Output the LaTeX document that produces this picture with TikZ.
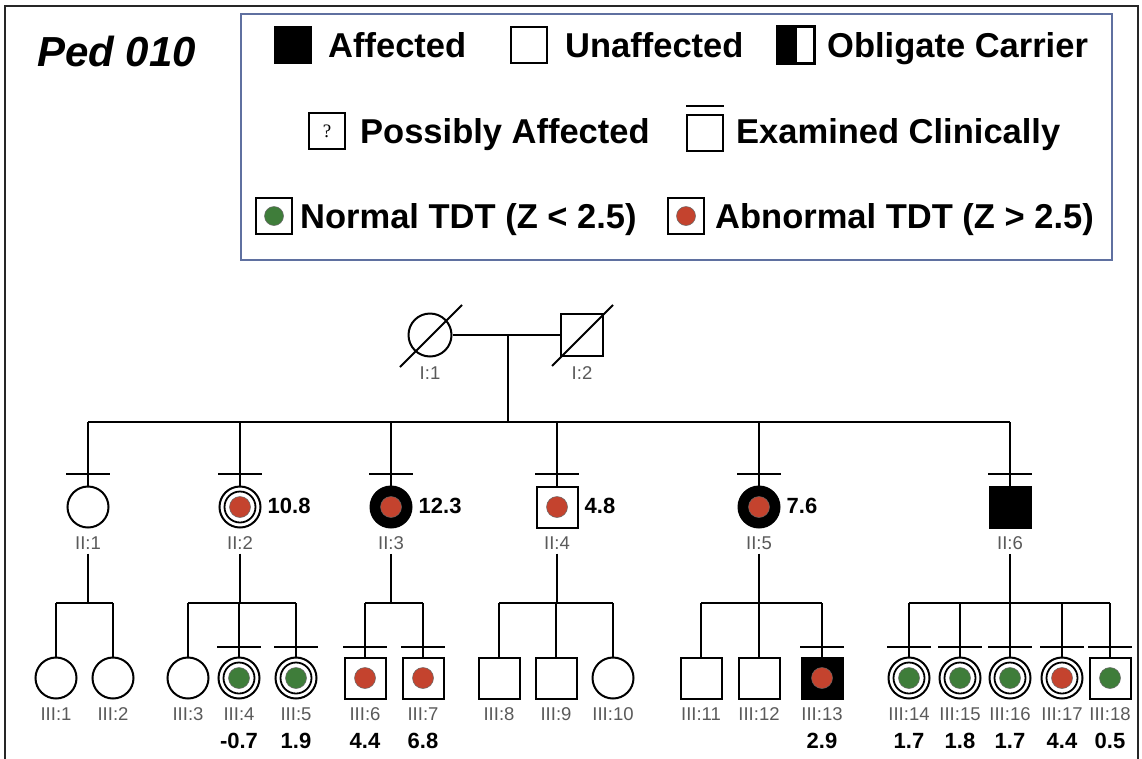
\documentclass[tikz,border=0pt]{standalone}
\usepackage{fontspec}
\setmainfont{Liberation Sans}
\newfontfamily\qfont{Liberation Serif}
\definecolor{tdtred}{HTML}{C4432E}
\definecolor{tdtgreen}{HTML}{3F7D3A}
\definecolor{legblue}{HTML}{5F70A0}
\definecolor{labgray}{HTML}{5A5A5A}
\begin{document}
\begin{tikzpicture}[x=1pt,y=-1pt,
  ln/.style={line width=2pt},
  fem/.style={circle, draw, line width=2pt, minimum size=41pt, inner sep=0pt, fill=white},
  mal/.style={rectangle, draw, line width=2pt, minimum size=41pt, inner sep=0pt, fill=white},
  affd/.style={fill=black},
  ring/.style={circle, draw, line width=1.8pt, minimum size=31pt, inner sep=0pt},
  rdot/.style={circle, fill=tdtred, draw=black!60, line width=0.5pt, minimum size=21pt, inner sep=0pt},
  gdot/.style={circle, fill=tdtgreen, draw=black!60, line width=0.5pt, minimum size=21pt, inner sep=0pt},
  lab/.style={font=\fontsize{18.5}{20}\selectfont, text=labgray, inner sep=0pt},
  num/.style={font=\bfseries\fontsize{22}{24}\selectfont, inner sep=0pt},
  legtxt/.style={font=\bfseries\fontsize{34.5}{40}\selectfont, anchor=base west, inner sep=0pt},
  legsq/.style={rectangle, draw, line width=1.6pt, minimum width=36pt, minimum height=36pt, inner sep=0pt, fill=white},
]
\useasboundingbox (0,0) rectangle (1142,758);
\fill[white] (0,0) rectangle (1142,758);
\draw[line width=1.5pt, black!85] (5,765) -- (5,6) -- (1138,6) -- (1138,765);

% title
\node[font=\bfseries\itshape\fontsize{42}{46}\selectfont, anchor=base west, inner sep=0pt] (title) at (37,66) {Ped 010};

% legend
\draw[legblue, line width=2pt] (241,14) rectangle (1112,260);
\node[legsq, fill=black] (kAff) at (293,45) {};
\node[legtxt] (tAff) at (328,57.5) {Affected};
\node[legsq] (kUnaff) at (529,45) {};
\node[legtxt] (tUnaff) at (565,57.5) {Unaffected};
\node[legsq] (kObl) at (796,45) {};
\fill[black] (kObl.north west) rectangle ([xshift=1pt]kObl.south);
\draw[line width=1.6pt] (kObl.north west) rectangle (kObl.south east);
\node[legtxt] (tObl) at (827,57.5) {Obligate Carrier};

\node[legsq, font=\qfont\fontsize{19}{21}\selectfont] (kPoss) at (327,131) {?};
\node[legtxt] (tPoss) at (360,143) {Possibly Affected};
\node[legsq] (kExam) at (705,133) {};
\draw[line width=2pt] ([yshift=8pt]kExam.north west) -- ([yshift=8pt]kExam.north east);
\node[legtxt] (tExam) at (736,143) {Examined Clinically};

\node[legsq] (kNorm) at (274,216) {};
\node[gdot, minimum size=19pt] (kNormDot) at (kNorm) {};
\node[legtxt] (tNorm) at (300,228) {Normal TDT (Z < 2.5)};
\node[legsq] (kAbn) at (686,216) {};
\node[rdot, minimum size=19pt] (kAbnDot) at (kAbn) {};
\node[legtxt] (tAbn) at (715,228) {Abnormal TDT (Z > 2.5)};

% generation I
\node[fem, minimum size=43pt] (I1) at (430,335) {};
\node[mal, minimum size=42pt] (I2) at (582,335) {};
\draw[ln] (I1.east) -- (I2.west);
\draw[ln] ([xshift=-30pt,yshift=-32pt]I1.center) -- ([xshift=32pt,yshift=30pt]I1.center);
\draw[ln] ([xshift=-30pt,yshift=-31pt]I2.center) -- ([xshift=31pt,yshift=30pt]I2.center);
\node[lab] (lI1) at (430,373) {I:1};
\node[lab] (lI2) at (582,373) {I:2};
\coordinate (m1) at (508,335);
\coordinate (sII) at (508,422);
\draw[ln] (m1) -- (sII);

% generation II
\node[fem] (II1) at (88,507) {};
\node[fem] (II2) at (240,507) {};
\node[ring] (cII2) at (II2) {};
\node[rdot] (dII2) at (II2) {};
\node[fem, affd] (II3) at (391,507) {};
\node[rdot] (dII3) at (II3) {};
\node[mal] (II4) at (557,507) {};
\node[rdot] (dII4) at (II4) {};
\node[fem, affd] (II5) at (759,507) {};
\node[rdot] (dII5) at (II5) {};
\node[mal, affd] (II6) at (1010,507) {};

\draw[ln] (II1.north |- sII) -- (II6.north |- sII);
\foreach \n in {II1,II2,II3,II4,II5,II6}{
  \draw[ln] (\n.north |- sII) -- (\n.north);
  \draw[ln] ([xshift=-22pt,yshift=12pt]\n.north) -- ([xshift=22pt,yshift=12pt]\n.north);
}
\node[lab] (lII1) at (88,543) {II:1};
\node[lab] (lII2) at (240,543) {II:2};
\node[lab] (lII3) at (391,543) {II:3};
\node[lab] (lII4) at (557,543) {II:4};
\node[lab] (lII5) at (759,543) {II:5};
\node[lab] (lII6) at (1010,543) {II:6};
\node[num, anchor=west] (nII2) at ([xshift=6pt,yshift=1pt]II2.east) {10.8};
\node[num, anchor=west] (nII3) at ([xshift=6pt,yshift=1pt]II3.east) {12.3};
\node[num, anchor=west] (nII4) at ([xshift=6pt,yshift=1pt]II4.east) {4.8};
\node[num, anchor=west] (nII5) at ([xshift=6pt,yshift=1pt]II5.east) {7.6};

% generation III
\coordinate (g3) at (0,603);
\node[fem] (III1) at (56,678) {};
\node[fem] (III2) at (113,678) {};
\node[fem] (III3) at (188,678) {};
\node[fem] (III4) at (239,678) {};
\node[ring] (cIII4) at (III4) {};
\node[gdot] (dIII4) at (III4) {};
\node[fem] (III5) at (296,678) {};
\node[ring] (cIII5) at (III5) {};
\node[gdot] (dIII5) at (III5) {};
\node[mal] (III6) at (365,678) {};
\node[rdot] (dIII6) at (III6) {};
\node[mal] (III7) at (423,678) {};
\node[rdot] (dIII7) at (III7) {};
\node[mal] (III8) at (499,678) {};
\node[mal] (III9) at (556,678) {};
\node[fem] (III10) at (613,678) {};
\node[mal] (III11) at (701,678) {};
\node[mal] (III12) at (759,678) {};
\node[mal, affd] (III13) at (822,678) {};
\node[rdot] (dIII13) at (III13) {};
\node[fem] (III14) at (909,678) {};
\node[ring] (cIII14) at (III14) {};
\node[gdot] (dIII14) at (III14) {};
\node[fem] (III15) at (960,678) {};
\node[ring] (cIII15) at (III15) {};
\node[gdot] (dIII15) at (III15) {};
\node[fem] (III16) at (1010,678) {};
\node[ring] (cIII16) at (III16) {};
\node[gdot] (dIII16) at (III16) {};
\node[fem] (III17) at (1062,678) {};
\node[ring] (cIII17) at (III17) {};
\node[rdot] (dIII17) at (III17) {};
\node[mal] (III18) at (1110,678) {};
\node[gdot] (dIII18) at (III18) {};

% descent lines from generation II
\foreach \p in {II1,II2,II3,II4,II5,II6}{
  \draw[ln] ([yshift=-4pt]l\p.south) -- (l\p.south |- g3);
}
% sibship lines
\draw[ln] (III1.north |- g3) -- (III2.north |- g3);
\draw[ln] (III3.north |- g3) -- (III5.north |- g3);
\draw[ln] (III6.north |- g3) -- (III7.north |- g3);
\draw[ln] (III8.north |- g3) -- (III10.north |- g3);
\draw[ln] (III11.north |- g3) -- (III13.north |- g3);
\draw[ln] (III14.north |- g3) -- (III18.north |- g3);
\foreach \n in {III1,III2,III3,III4,III5,III6,III7,III8,III9,III10,III11,III12,III13,III14,III15,III16,III17,III18}{
  \draw[ln] (\n.north |- g3) -- (\n.north);
}
\foreach \n in {III4,III5,III6,III7,III13,III14,III15,III16,III17,III18}{
  \draw[ln] ([xshift=-22pt,yshift=10pt]\n.north) -- ([xshift=22pt,yshift=10pt]\n.north);
}
% labels
\foreach \n/\t in {III1/III:1,III2/III:2,III3/III:3,III4/III:4,III5/III:5,III6/III:6,III7/III:7,III8/III:8,III9/III:9,III10/III:10,III11/III:11,III12/III:12,III13/III:13,III14/III:14,III15/III:15,III16/III:16,III17/III:17,III18/III:18}{
  \node[lab] (l\n) at (\n |- 0,714) {\t};
}
% TDT scores
\foreach \n/\v in {III4/-0.7,III5/1.9,III6/4.4,III7/6.8,III13/2.9,III14/1.7,III15/1.8,III16/1.7,III17/4.4,III18/0.5}{
  \node[num] (n\n) at (\n |- 0,741) {\v};
}
\end{tikzpicture}
\end{document}
